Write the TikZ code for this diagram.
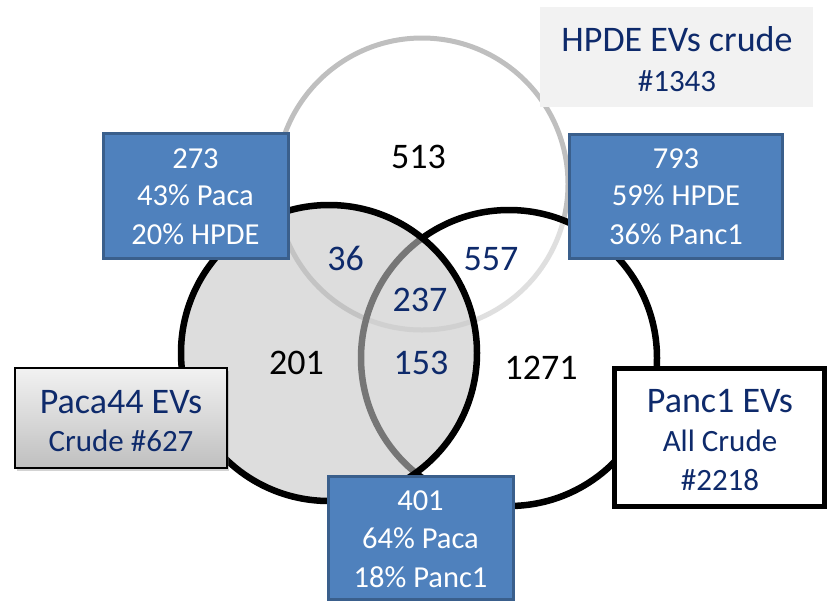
\documentclass[tikz,border=0pt]{standalone}
\usepackage{fontspec}
\setmainfont{Carlito}
\usetikzlibrary{shadows}
\definecolor{navy}{HTML}{0E2A6B}
\definecolor{boxblue}{HTML}{4F81BD}
\definecolor{boxedge}{HTML}{3A5F8C}
\definecolor{topring}{HTML}{BFBFBF}
\definecolor{leftfill}{HTML}{C6C6C6}
\definecolor{hpdebg}{HTML}{F2F2F2}
\tikzset{
  bluebox/.style={draw=boxedge, fill=boxblue, line width=3pt, inner sep=0pt},
  bluetxt/.style={text=white, anchor=base, inner sep=0pt, font=\fontsize{30.5}{36}\selectfont},
  lblA/.style={text=navy, anchor=base, inner sep=0pt, font=\fontsize{36}{40}\selectfont},
  lblB/.style={text=navy, anchor=base, inner sep=0pt, font=\fontsize{31}{36}\selectfont},
  cnt/.style={anchor=base, inner sep=0pt, font=\fontsize{36}{40}\selectfont},
  cntin/.style={cnt, text=navy},
}
\begin{document}
\begin{tikzpicture}[x=1pt,y=-1pt]
\useasboundingbox (0,0) rectangle (827,606);
% circles
\draw[topring, line width=5pt] (422,184) circle[radius=146pt];
\draw[black, line width=6.5pt, fill=white, fill opacity=0.5] (509,358) circle[radius=148pt];
\draw[black, line width=6.5pt, fill=leftfill, fill opacity=0.6] (329,353) circle[radius=148pt];
% counts
\node[cnt] (n513) at (418.5,168.3) {513};
\node[cntin] (n36) at (345.5,270) {36};
\node[cntin] (n557) at (491,270) {557};
\node[cntin] (n237) at (420,311.7) {237};
\node[cnt] (n201) at (296.5,374) {201};
\node[cntin] (n153) at (421,374) {153};
\node[cnt] (n1271) at (541,379) {1271};
% blue boxes
\node[bluebox, minimum width=185pt, minimum height=125pt] (b273) at (195.5,195.5) {};
\node[bluetxt] (b273a) at (195.5,168.5) {273};
\node[bluetxt] (b273b) at (195.5,205.5) {43\% Paca};
\node[bluetxt] (b273c) at (195.5,244) {20\% HPDE};
\node[bluebox, minimum width=213pt, minimum height=124pt] (b793) at (675.5,196) {};
\node[bluetxt] (b793a) at (676,168.5) {793};
\node[bluetxt] (b793b) at (676,205.5) {59\% HPDE};
\node[bluetxt] (b793c) at (676,244) {36\% Panc1};
\node[bluebox, minimum width=185pt, minimum height=123pt] (b401) at (420.5,537.5) {};
\node[bluetxt] (b401a) at (420.5,510.7) {401};
\node[bluetxt] (b401b) at (420.5,548) {64\% Paca};
\node[bluetxt] (b401c) at (420.5,587) {18\% Panc1};
% set labels
\node[fill=hpdebg, minimum width=273pt, minimum height=100pt, inner sep=0pt] (hpde) at (676.5,57) {};
\node[lblA] (hpdea) at (677,51.7) {HPDE EVs crude};
\node[lblB] (hpdeb) at (677,91.7) {\#1343};
\node[draw=black, line width=2.5pt, top color=hpdebg, bottom color=black!25, inner sep=0pt,
  minimum width=212pt, minimum height=100pt,
  drop shadow={opacity=0.35, shadow xshift=2pt, shadow yshift=-3pt}] (paca) at (121,418) {};
\node[lblA] (pacaa) at (121,413.3) {Paca44 EVs};
\node[lblB] (pacab) at (121,451.7) {Crude \#627};
\node[draw=black, fill=white, line width=5pt, minimum width=210pt, minimum height=138pt, inner sep=0pt] (panc) at (719,437) {};
\node[lblA] (panca) at (720,412.3) {Panc1 EVs};
\node[lblB] (pancb) at (720,451.7) {All Crude};
\node[lblB] (pancc) at (720,490) {\#2218};
\end{tikzpicture}
\end{document}
